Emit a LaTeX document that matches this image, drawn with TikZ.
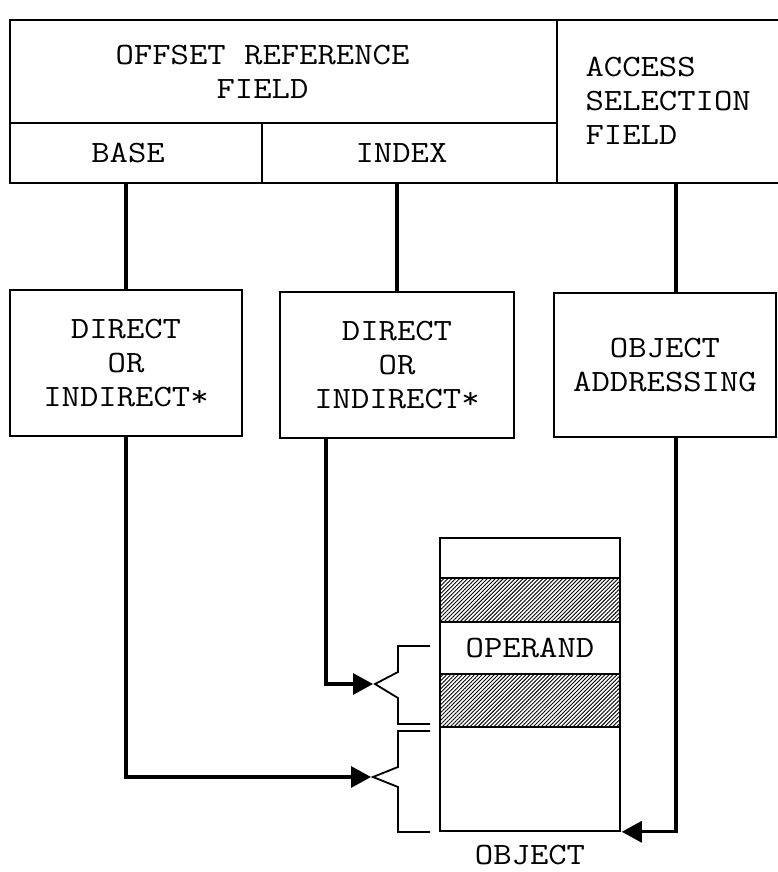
\documentclass[tikz,border=0pt]{standalone}
\usepackage{fontspec}
\setmainfont{Latin Modern Mono}[FakeStretch=1.15]
\usetikzlibrary{arrows.meta,patterns.meta}

\tikzset{
  every node/.style={font=\fontsize{31pt}{34pt}\selectfont},
  field/.style={draw, line width=1.6pt, inner sep=0pt},
  modebox/.style={draw, line width=1.8pt, inner sep=0pt, align=center},
  cell/.style={draw, line width=1.6pt, inner sep=0pt, minimum width=180pt},
  hatched/.style={pattern={Lines[angle=45,distance=2.8pt,line width=0.9pt]}},
  link/.style={line width=3.2pt},
  arrowlink/.style={line width=3.2pt, -{Triangle[length=20pt,width=21pt]}},
  brace/.style={line width=1.8pt}
}

\begin{document}
\begin{tikzpicture}[x=1pt, y=-1pt]
        \useasboundingbox (0,0) rectangle (778,872);

        % Formato dell'istruzione
        \node[field, minimum width=547pt, minimum height=103pt] (offset) at (283.5,71.5) {};
        \node[align=center] (offsettext) at ([xshift=-21pt]offset.center) {OFFSET REFERENCE\\FIELD};
        \node[field, minimum width=252pt, minimum height=60pt] (base) at (136,153) {};
        \node (basetext) at ([xshift=-8pt]base.center) {BASE};
        \node[field, minimum width=295pt, minimum height=60pt] (index) at (409.5,153) {};
        \node (indextext) at ([xshift=-8pt]index.center) {INDEX};
        \node[field, minimum width=233pt, minimum height=163pt] (access) at (673.5,101.5) {};
        \node[align=left, anchor=west] (accesstext) at (582,101) {ACCESS\\SELECTION\\FIELD};

        % Modi di indirizzamento
        \node[modebox, minimum width=232pt, minimum height=146pt] (dirA) at (126,363) {DIRECT\\OR\\INDIRECT*};
        \node[modebox, minimum width=234pt, minimum height=146pt] (dirB) at (397,365) {DIRECT\\OR\\INDIRECT*};
        \node[modebox, minimum width=222pt, minimum height=144pt] (objaddr) at (665,365) {OBJECT\\ADDRESSING};

        \draw[link] (dirA.north |- base.south) -- (dirA.north);
        \draw[link] (dirB.north |- index.south) -- (dirB.north);
        \draw[link] ([xshift=11pt]objaddr.north |- access.south) -- ([xshift=11pt]objaddr.north);

        % Oggetto
        \node[cell, minimum height=40pt] (row1) at (530,558) {};
        \node[cell, hatched, minimum height=44pt] (row2) at (530,600) {};
        \node[cell, minimum height=52pt] (row3) at (530,648) {OPERAND};
        \node[cell, hatched, minimum height=53pt] (row4) at (530,700.5) {};
        \node[cell, minimum height=104pt] (row5) at (530,779) {};
        \node (objlabel) at (530,855) {OBJECT};

        % Parentesi
        \coordinate (tipA) at (375,684);
        \coordinate (tipB) at (373,777);
        \draw[brace] (430,646) -- (398,646) -- (398,672) -- (tipA) -- (398,698) -- (398,724) -- (430,724);
        \draw[brace] (430,731) -- (398,731) -- (398,767) -- (tipB) -- (398,787) -- (398,832) -- (430,832);

        % Frecce
        \draw[arrowlink] ([xshift=-71pt]dirB.south) |- ([xshift=-2pt]tipA);
        \draw[arrowlink] (dirA.south) |- ([xshift=-2pt]tipB);
        \draw[arrowlink] ([xshift=11pt]objaddr.south) |- ([xshift=1pt]row5.south east);
\end{tikzpicture}
\end{document}
